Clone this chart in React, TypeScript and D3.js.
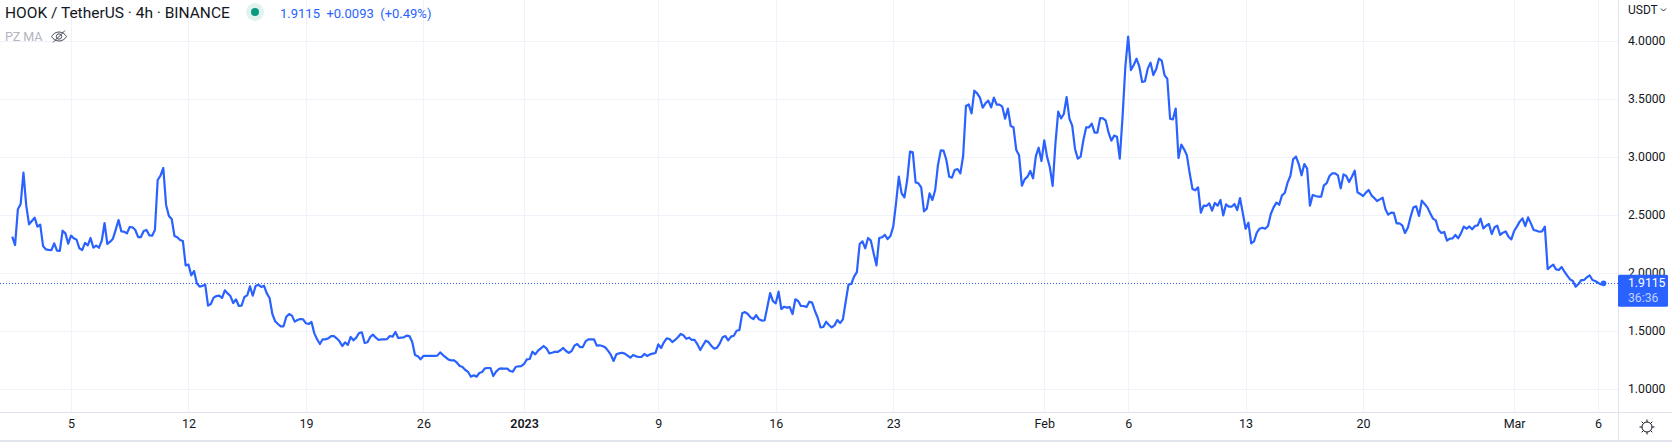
import React, { useEffect, useRef } from "react";
import * as d3 from "d3";

// 4h closes, first bar is 1 Dec 2022 12:00 UTC
const firstBar = Date.UTC(2022, 11, 1, 12);
const barMs = 4 * 3600 * 1000;
const closes = [
  2.314, 2.242, 2.55, 2.596, 2.867, 2.582, 2.421, 2.45, 2.478, 2.401, 2.418,
  2.234, 2.205, 2.2, 2.199, 2.257, 2.194, 2.191, 2.366, 2.343, 2.254,
  2.323, 2.3, 2.288, 2.214, 2.199, 2.26, 2.24, 2.303, 2.219, 2.237,
  2.219, 2.28, 2.432, 2.251, 2.271, 2.297, 2.375, 2.458, 2.36, 2.357,
  2.343, 2.398, 2.395, 2.372, 2.311, 2.311, 2.363, 2.372, 2.326, 2.323,
  2.372, 2.803, 2.841, 2.907, 2.588, 2.493, 2.467, 2.32, 2.309, 2.286,
  2.277, 2.067, 2.073, 1.981, 2.018, 1.912, 1.883, 1.89, 1.9, 1.719,
  1.733, 1.788, 1.802, 1.805, 1.785, 1.851, 1.825, 1.802, 1.742, 1.774,
  1.716, 1.719, 1.794, 1.808, 1.886, 1.805, 1.889, 1.9, 1.88, 1.892,
  1.825, 1.785, 1.647, 1.584, 1.561, 1.541, 1.541, 1.624, 1.647, 1.633,
  1.581, 1.595, 1.604, 1.601, 1.567, 1.561, 1.578, 1.48, 1.429, 1.388,
  1.429, 1.429, 1.437, 1.457, 1.457, 1.437, 1.411, 1.371, 1.403, 1.38,
  1.449, 1.42, 1.443, 1.483, 1.489, 1.397, 1.403, 1.449, 1.469, 1.443,
  1.423, 1.429, 1.429, 1.431, 1.457, 1.452, 1.492, 1.44, 1.443, 1.446,
  1.46, 1.457, 1.408, 1.293, 1.282, 1.256, 1.285, 1.285, 1.285, 1.285,
  1.285, 1.288, 1.316, 1.293, 1.273, 1.253, 1.247, 1.247, 1.227, 1.198,
  1.19, 1.164, 1.147, 1.106, 1.118, 1.106, 1.138, 1.147, 1.178, 1.181,
  1.181, 1.112, 1.15, 1.173, 1.178, 1.175, 1.175, 1.155, 1.15, 1.19,
  1.196, 1.198, 1.216, 1.256, 1.259, 1.322, 1.299, 1.331, 1.351, 1.371,
  1.351, 1.308, 1.313, 1.322, 1.319, 1.334, 1.354, 1.328, 1.311, 1.328,
  1.374, 1.388, 1.362, 1.362, 1.411, 1.429, 1.429, 1.429, 1.374, 1.377,
  1.371, 1.36, 1.331, 1.296, 1.242, 1.299, 1.308, 1.313, 1.305, 1.288,
  1.27, 1.293, 1.282, 1.276, 1.276, 1.302, 1.285, 1.299, 1.305, 1.311,
  1.385, 1.354, 1.403, 1.437, 1.431, 1.405, 1.423, 1.446, 1.475, 1.463,
  1.434, 1.443, 1.423, 1.423, 1.385, 1.336, 1.377, 1.417, 1.403, 1.371,
  1.348, 1.357, 1.394, 1.446, 1.457, 1.42, 1.452, 1.46, 1.503, 1.509,
  1.653, 1.664, 1.647, 1.618, 1.604, 1.638, 1.601, 1.59, 1.592, 1.71,
  1.828, 1.759, 1.739, 1.84, 1.69, 1.71, 1.702, 1.707, 1.647, 1.774,
  1.759, 1.716, 1.716, 1.707, 1.753, 1.745, 1.673, 1.615, 1.532, 1.535,
  1.581, 1.552, 1.532, 1.549, 1.595, 1.569, 1.601, 1.753, 1.9, 1.906,
  1.969, 2.009, 2.251, 2.274, 2.214, 2.303, 2.28, 2.171, 2.067, 2.303,
  2.309, 2.329, 2.294, 2.32, 2.401, 2.602, 2.832, 2.688, 2.654, 2.803,
  3.048, 3.042, 2.783, 2.775, 2.74, 2.533, 2.556, 2.688, 2.631, 2.717,
  2.933, 3.059, 3.056, 2.976, 2.832, 2.823, 2.89, 2.898, 2.861, 3.01,
  3.442, 3.456, 3.378, 3.574, 3.551, 3.514, 3.427, 3.465, 3.488, 3.43,
  3.514, 3.453, 3.453, 3.436, 3.332, 3.419, 3.269, 3.258, 3.062, 3.016,
  2.754, 2.809, 2.832, 2.881, 2.818, 3.01, 3.082, 2.967, 3.146, 3.005,
  2.913, 2.752, 3.12, 3.393, 3.335, 3.373, 3.519, 3.332, 3.272, 3.071,
  2.987, 3.005, 3.148, 3.258, 3.258, 3.289, 3.212, 3.212, 3.338, 3.335,
  3.315, 3.212, 3.143, 3.186, 3.177, 2.987, 3.35, 3.781, 4.04, 3.752,
  3.796, 3.85, 3.781, 3.649, 3.655, 3.764, 3.816, 3.709, 3.758, 3.85,
  3.833, 3.709, 3.675, 3.332, 3.327, 3.419, 2.993, 3.108, 3.068, 3.016,
  2.861, 2.726, 2.714, 2.74, 2.521, 2.582, 2.579, 2.602, 2.539, 2.605,
  2.582, 2.631, 2.498, 2.593, 2.573, 2.573, 2.596, 2.544, 2.648, 2.516,
  2.383, 2.435, 2.257, 2.274, 2.349, 2.383, 2.392, 2.383, 2.406, 2.51,
  2.567, 2.608, 2.59, 2.671, 2.691, 2.78, 2.838, 2.982, 3.005, 2.941,
  2.844, 2.941, 2.901, 2.582, 2.674, 2.665, 2.659, 2.659, 2.757, 2.777,
  2.838, 2.861, 2.861, 2.844, 2.731, 2.852, 2.838, 2.786, 2.832, 2.884,
  2.697, 2.683, 2.665, 2.694, 2.717, 2.671, 2.648, 2.622, 2.636, 2.651,
  2.55, 2.504, 2.521, 2.519, 2.429, 2.429, 2.412, 2.346, 2.392, 2.487,
  2.567, 2.576, 2.493, 2.625, 2.596, 2.567, 2.516, 2.47, 2.455, 2.372,
  2.346, 2.355, 2.28, 2.297, 2.3, 2.329, 2.3, 2.343, 2.401, 2.383,
  2.403, 2.378, 2.406, 2.412, 2.47, 2.386, 2.409, 2.424, 2.337, 2.395,
  2.409, 2.329, 2.349, 2.36, 2.314, 2.291, 2.363, 2.401, 2.444, 2.472,
  2.406, 2.481, 2.429, 2.372, 2.366, 2.357, 2.36, 2.401, 2.035, 2.055,
  2.073, 2.032, 2.027, 2.053, 2.012, 1.978, 1.946, 1.932, 1.883, 1.906,
  1.94, 1.94, 1.963, 1.981, 1.94, 1.932, 1.917, 1.903, 1.9115,
];

const timeTicks = [
  Date.UTC(2022, 11, 5), Date.UTC(2022, 11, 12), Date.UTC(2022, 11, 19), Date.UTC(2022, 11, 26),
  Date.UTC(2023, 0, 1), Date.UTC(2023, 0, 9), Date.UTC(2023, 0, 16), Date.UTC(2023, 0, 23),
  Date.UTC(2023, 1, 1), Date.UTC(2023, 1, 6), Date.UTC(2023, 1, 13), Date.UTC(2023, 1, 20),
  Date.UTC(2023, 2, 1), Date.UTC(2023, 2, 6),
].map((t) => new Date(t));
const timeLabels = ["5", "12", "19", "26", "2023", "9", "16", "23", "Feb", "6", "13", "20", "Mar", "6"];
const priceTicks = [1, 1.5, 2, 2.5, 3, 3.5, 4];
const lastPrice = 1.9115;
const blue = "#2962ff";
const font = "Roboto, sans-serif";

export default function App() {
  const ref = useRef<SVGSVGElement>(null);

  useEffect(() => {
    if (!ref.current) return;
    const svg = d3.select(ref.current);
    svg.selectAll("*").remove();

    const paneRight = 1618;
    const paneBottom = 412;

    const x = d3
      .scaleUtc()
      .domain([timeTicks[0], timeTicks[timeTicks.length - 1]])
      .range([71, 1598]);
    const y = d3.scaleLinear().domain([1, 4]).range([389, 41.3]);

    const bars = closes.map((c, i) => ({ t: new Date(firstBar + i * barMs), c }));

    // grid
    svg
      .append("g")
      .selectAll("line")
      .data(timeTicks)
      .enter()
      .append("line")
      .attr("x1", (d) => Math.round(x(d)) + 0.5)
      .attr("x2", (d) => Math.round(x(d)) + 0.5)
      .attr("y1", 0)
      .attr("y2", paneBottom)
      .attr("stroke", "#f0f3fa");
    svg
      .append("g")
      .selectAll("line")
      .data(priceTicks)
      .enter()
      .append("line")
      .attr("x1", 0)
      .attr("x2", paneRight)
      .attr("y1", (d) => Math.round(y(d)) + 0.5)
      .attr("y2", (d) => Math.round(y(d)) + 0.5)
      .attr("stroke", "#f0f3fa");

    // last price line
    svg
      .append("line")
      .attr("x1", 0)
      .attr("x2", paneRight)
      .attr("y1", Math.round(y(lastPrice)) + 0.5)
      .attr("y2", Math.round(y(lastPrice)) + 0.5)
      .attr("stroke", blue)
      .attr("stroke-dasharray", "1 2");

    const line = d3
      .line<any>()
      .x((d) => x(d.t))
      .y((d) => y(d.c));
    svg
      .append("path")
      .datum(bars)
      .attr("fill", "none")
      .attr("stroke", blue)
      .attr("stroke-width", 2.2)
      .attr("stroke-linejoin", "round")
      .attr("d", line);

    const last = bars[bars.length - 1];
    svg
      .append("circle")
      .attr("cx", x(last.t))
      .attr("cy", y(last.c))
      .attr("r", 2.8)
      .attr("fill", blue);

    // axis frame
    const frame = "#e0e3eb";
    svg.append("rect").attr("x", paneRight).attr("y", 0).attr("width", 1).attr("height", 440).attr("fill", frame);
    svg.append("rect").attr("x", 0).attr("y", paneBottom).attr("width", 1672).attr("height", 1).attr("fill", frame);
    svg.append("rect").attr("x", 0).attr("y", 440).attr("width", 1672).attr("height", 2).attr("fill", frame);

    // time axis
    const xAxis = svg
      .append("g")
      .attr("transform", `translate(0,${paneBottom + 7})`)
      .call(
        d3
          .axisBottom(x)
          .tickValues(timeTicks)
          .tickSize(0)
          .tickPadding(0)
          .tickFormat((_, i) => timeLabels[i]) as any
      );
    xAxis.select(".domain").remove();
    xAxis
      .selectAll("text")
      .attr("font-family", font)
      .attr("font-size", 12.5)
      .attr("fill", "#131722")
      .attr("font-weight", (_, i) => (timeLabels[i] === "2023" ? 600 : 400));

    // price axis
    const yAxis = svg
      .append("g")
      .attr("transform", `translate(${paneRight + 10},-0.5)`)
      .call(
        d3
          .axisRight(y)
          .tickValues(priceTicks)
          .tickSize(0)
          .tickPadding(0)
          .tickFormat(d3.format(".4f") as any)
      );
    yAxis.select(".domain").remove();
    yAxis.selectAll("text").attr("font-family", font).attr("font-size", 12.2).attr("fill", "#131722");

    svg
      .append("text")
      .attr("x", paneRight + 10)
      .attr("y", 14)
      .attr("font-family", font)
      .attr("font-size", 12)
      .attr("fill", "#131722")
      .text("USDT");
    svg
      .append("path")
      .attr("d", "M1661 8.5l2.5 2.5 2.5-2.5")
      .attr("fill", "none")
      .attr("stroke", "#131722")
      .attr("stroke-width", 0.9);

    // last price tag
    const tagY = y(lastPrice);
    svg
      .append("rect")
      .attr("x", paneRight)
      .attr("y", tagY - 8.5)
      .attr("width", 50)
      .attr("height", 32)
      .attr("rx", 1.5)
      .attr("fill", blue);
    svg
      .append("text")
      .attr("x", paneRight + 10)
      .attr("y", tagY + 4)
      .attr("font-family", font)
      .attr("font-size", 12.2)
      .attr("fill", "#ffffff")
      .text(d3.format(".4f")(lastPrice));
    svg
      .append("text")
      .attr("x", paneRight + 10)
      .attr("y", tagY + 19)
      .attr("font-family", font)
      .attr("font-size", 12.2)
      .attr("fill", "#ffffff")
      .attr("fill-opacity", 0.72)
      .text("36:36");

    // legend
    svg
      .append("text")
      .attr("x", 5)
      .attr("y", 18)
      .attr("font-family", font)
      .attr("font-size", 15.5)
      .attr("fill", "#131722")
      .text("HOOK / TetherUS · 4h · BINANCE");
    svg.append("circle").attr("cx", 255).attr("cy", 12).attr("r", 9).attr("fill", "#089981").attr("fill-opacity", 0.12);
    svg.append("circle").attr("cx", 255).attr("cy", 12).attr("r", 4).attr("fill", "#089981");
    svg
      .append("text")
      .attr("x", 280)
      .attr("y", 18)
      .attr("font-family", font)
      .attr("font-size", 13)
      .attr("fill", blue)
      .attr("xml:space", "preserve")
      .style("white-space", "pre")
      .text("1.9115  +0.0093  (+0.49%)");
    svg
      .append("text")
      .attr("x", 5)
      .attr("y", 41)
      .attr("font-family", font)
      .attr("font-size", 12.5)
      .attr("fill", "#b2b5be")
      .text("PZ MA");

    // hidden eye icon
    const eye = svg
      .append("g")
      .attr("transform", "translate(59,36.5)")
      .attr("fill", "none")
      .attr("stroke", "#4a4e59")
      .attr("stroke-width", 1);
    eye.append("path").attr("d", "M-7.5 0C-4 -6 4 -6 7.5 0C4 6 -4 6 -7.5 0Z");
    eye.append("circle").attr("r", 2.7);
    eye.append("line").attr("x1", -6).attr("y1", 6).attr("x2", 6).attr("y2", -6);

    // settings sun icon
    const sun = svg
      .append("g")
      .attr("transform", "translate(1647,427)")
      .attr("fill", "none")
      .attr("stroke", "#131722")
      .attr("stroke-width", 1);
    sun.append("circle").attr("r", 5);
    d3.range(8).forEach((i) => {
      const a = (i * Math.PI) / 4;
      sun
        .append("line")
        .attr("x1", 5 * Math.cos(a))
        .attr("y1", 5 * Math.sin(a))
        .attr("x2", 7.5 * Math.cos(a))
        .attr("y2", 7.5 * Math.sin(a));
    });
  }, []);

  return (
    <svg
      ref={ref}
      width={1672}
      height={442}
      style={{ position: "absolute", left: 0, top: 0, background: "#ffffff" }}
    />
  );
}
